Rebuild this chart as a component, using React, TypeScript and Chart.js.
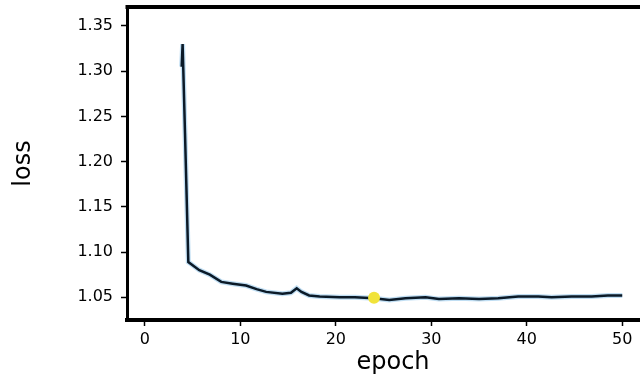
import React, { useEffect, useRef } from "react";
import { Chart, registerables } from "chart.js";

Chart.register(...registerables);

// Data
const epochs = [3.85, 3.95, 4.2, 4.55, 5.7, 6.8, 8.0, 9.2, 10.6, 11.7, 12.7, 14.4, 15.3, 15.9, 16.4, 17.2, 18.3, 20.4, 22.0, 24.0, 25.6, 27.3, 29.4, 30.8, 32.9, 35.0, 37.0, 39.1, 41.2, 42.6, 44.7, 46.8, 48.5, 50.0];
const losses = [1.305, 1.33, 1.232, 1.089, 1.08, 1.075, 1.067, 1.065, 1.063, 1.059, 1.056, 1.054, 1.055, 1.06, 1.056, 1.052, 1.051, 1.05, 1.05, 1.049, 1.047, 1.049, 1.05, 1.048, 1.049, 1.048, 1.049, 1.051, 1.051, 1.05, 1.051, 1.051, 1.052, 1.052];
const bestEpoch = [24];
const bestLoss = [1.0495];
const xTickStep = 10;
const yTickStep = 0.05;
const xTitle = "epoch";
const yTitle = "loss";

const topBorder = {
  id: "topBorder",
  afterDraw(chart: any) {
    const { ctx, chartArea } = chart;
    ctx.save();
    ctx.strokeStyle = "#000";
    ctx.lineWidth = 4;
    ctx.beginPath();
    ctx.moveTo(chartArea.left - 1.5, chartArea.top);
    ctx.lineTo(chartArea.right, chartArea.top);
    ctx.stroke();
    ctx.restore();
  },
};

export default function App() {
  const ref = useRef<HTMLCanvasElement>(null);
  useEffect(() => {
    document.body.style.margin = "0";
    document.body.style.overflow = "hidden";
    Chart.defaults.font.family = "DejaVu Sans";
    const line = epochs.map((e, i) => ({ x: e, y: losses[i] }));
    const best = bestEpoch.map((e, i) => ({ x: e, y: bestLoss[i] }));
    const chart = new Chart(ref.current!, {
      type: "line",
      data: {
        datasets: [
          {
            data: best,
            showLine: false,
            pointRadius: 6,
            pointBackgroundColor: "#f1e33a",
            pointBorderWidth: 0,
            order: 0,
          },
          {
            data: line,
            borderColor: "#0b1a28",
            borderWidth: 2.5,
            pointRadius: 0,
            tension: 0,
            order: 1,
          },
          {
            data: line,
            borderColor: "rgba(150,200,235,0.6)",
            borderWidth: 5,
            pointRadius: 0,
            tension: 0,
            order: 2,
          },
        ],
      } as any,
      options: {
        animation: false,
        responsive: false,
        layout: { padding: { top: 7, right: 4, left: 0, bottom: 0 } },
        plugins: { legend: { display: false }, tooltip: { enabled: false } },
        scales: {
          x: {
            type: "linear",
            min: -1.875,
            max: 53.85,
            afterFit: (s: any) => {
              s.height = 60;
              s.paddingLeft = 0;
              s.paddingRight = 0;
            },
            border: { display: true, color: "#000", width: 4 },
            grid: { drawOnChartArea: false, tickLength: 6, tickColor: "#000", tickWidth: 1.5 },
            ticks: {
              stepSize: xTickStep,
              includeBounds: false,
              padding: 4,
              color: "#000",
              font: { size: 16 },
              callback: (v: any) => String(v),
            },
            title: {
              display: true,
              text: xTitle,
              color: "#000",
              font: { size: 24 },
              padding: { top: 0, bottom: 3 },
            },
          },
          y: {
            type: "linear",
            min: 1.0249,
            max: 1.371,
            afterFit: (s: any) => {
              s.width = 127;
              s.paddingTop = 0;
              s.paddingBottom = 0;
            },
            border: { display: true, color: "#000", width: 3 },
            grid: { drawOnChartArea: false, tickLength: 6, tickColor: "#000", tickWidth: 1.5 },
            ticks: {
              stepSize: yTickStep,
              includeBounds: false,
              padding: 8,
              color: "#000",
              font: { size: 16 },
              callback: (v: any) => Number(v).toFixed(2),
            },
            title: {
              display: true,
              text: yTitle,
              color: "#000",
              font: { size: 24 },
              padding: { top: 9, bottom: 0 },
            },
          },
        },
      } as any,
      plugins: [topBorder],
    });
    return () => chart.destroy();
  }, []);
  return (
    <div style={{ width: 640, height: 380, overflow: "hidden", background: "#fff" }}>
      <canvas ref={ref} width={665} height={380} style={{ display: "block" }} />
    </div>
  );
}
